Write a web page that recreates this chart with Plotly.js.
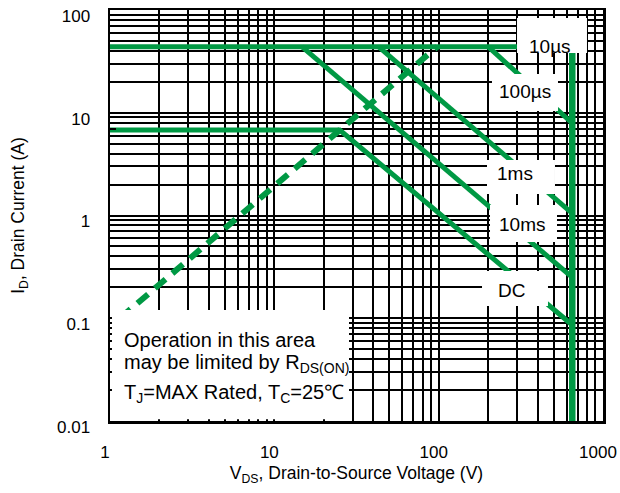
<!DOCTYPE html>
<html>
<head>
<meta charset="utf-8">
<script src="https://cdn.plot.ly/plotly-3.0.1.min.js"></script>
<style>html,body{margin:0;padding:0;background:#fff;}#chart{width:620px;height:493px;}</style>
</head>
<body>
<div id="chart"></div>
<script>
// ---- data (V in volts, I in amperes) ----
const v10us = [1, 650];
const i10us = [44, 44];
const v100us = [200, 650];
const i100us = [44, 7.9];
const v1ms = [43, 650];
const i1ms = [44, 1.05];
const v10ms = [14.7, 650];
const i10ms = [44, 0.25];
const vDC = [1, 25, 650];
const iDC = [6.8, 6.8, 0.086];
const vBreakdown = [650, 650];
const iBreakdown = [44, 0.01];
const vRdsLimit = [1.15, 98];
const iRdsLimit = [0.1, 44];

const xTickVals = [1, 10, 100, 1000];
const xTickText = ['1', '10', '100', '1000'];
const yTickVals = [0.01, 0.1, 1, 10, 100];
const yTickText = ['0.01', '0.1', '1', '10', '100'];
const curveLabels = ['10µs', '100µs', '1ms', '10ms', 'DC'];

function minorVals(d0, d1) {
  const out = [];
  for (let d = d0; d < d1; d++) for (let k = 2; k <= 9; k++) out.push(k * Math.pow(10, d));
  return out;
}

const green = '#009944';
const font = 'Liberation Sans, Arial, sans-serif';

function solid(x, y, w) {
  return {x: x, y: y, type: 'scatter', mode: 'lines', line: {color: green, width: w || 5}, hoverinfo: 'skip'};
}

const traces = [
  solid(v10us, i10us),
  solid(v100us, i100us),
  solid(v1ms, i1ms),
  solid(v10ms, i10ms),
  solid(vDC, iDC),
  solid(vBreakdown, iBreakdown, 6.5),
  {x: vRdsLimit, y: iRdsLimit, type: 'scatter', mode: 'lines',
   line: {color: green, width: 6, dash: '14px,9px'}, hoverinfo: 'skip'}
];

const gridStyle = {showgrid: true, gridcolor: '#000', gridwidth: 2};

function box(x0, x1, y0, y1) {
  return {type: 'rect', xref: 'paper', yref: 'paper', x0: x0, x1: x1, y0: y0, y1: y1,
          fillcolor: '#fff', line: {width: 0}, layer: 'above'};
}
function label(text, x, y, size, anchor) {
  return {text: text, xref: 'paper', yref: 'paper', x: x, y: y, showarrow: false,
          xanchor: anchor || 'center', yanchor: 'middle', font: {family: font, size: size || 19, color: '#000'}};
}

const layout = {
  width: 620, height: 493,
  margin: {l: 110, r: 17, t: 10, b: 72},
  paper_bgcolor: '#fff', plot_bgcolor: '#fff',
  showlegend: false, hovermode: false,
  font: {family: font, color: '#000'},
  xaxis: Object.assign({
    type: 'log', range: [0, 3], tickmode: 'array', tickvals: xTickVals, ticktext: xTickText,
    ticks: 'inside', ticklen: 6, tickwidth: 2, tickcolor: '#000',
    showline: true, linecolor: '#000', linewidth: 2.5, mirror: true, zeroline: false,
    tickfont: {family: font, size: 17, color: '#000'},
    ticklabelstandoff: 14, ticklabelshift: -5,
    minor: {tickmode: 'array', tickvals: minorVals(0, 3), showgrid: true, gridcolor: '#000', gridwidth: 2,
            ticks: 'inside', ticklen: 6, tickwidth: 2, tickcolor: '#000'},
    title: {text: 'V<sub>DS</sub>, Drain-to-Source Voltage (V)', font: {family: font, size: 17.5, color: '#000'}, standoff: 6},
    automargin: false
  }, gridStyle),
  yaxis: Object.assign({
    type: 'log', range: [-2, 2], tickmode: 'array', tickvals: yTickVals, ticktext: yTickText,
    ticks: 'inside', ticklen: 6, tickwidth: 2, tickcolor: '#000',
    showline: true, linecolor: '#000', linewidth: 2.5, mirror: true, zeroline: false,
    tickfont: {family: font, size: 17, color: '#000'},
    ticklabelstandoff: 14, ticklabelshift: 6,
    minor: {tickmode: 'array', tickvals: minorVals(-2, 2), showgrid: true, gridcolor: '#000', gridwidth: 2,
            ticks: 'inside', ticklen: 6, tickwidth: 2, tickcolor: '#000'},
    title: {text: 'I<sub>D</sub>, Drain Current (A)', font: {family: font, size: 17.5, color: '#000'}, standoff: 28},
    automargin: false
  }, gridStyle),
  shapes: [
    box(0.004, 0.4848, 0.004, 0.27),
    box(0.8256, 0.9675, 0.8954, 0.9805),
    box(0.7748, 0.9087, 0.7543, 0.8443),
    box(0.7647, 0.9026, 0.5523, 0.6350),
    box(0.7708, 0.9067, 0.4355, 0.5255),
    box(0.7546, 0.8884, 0.2798, 0.3650)
  ],
  annotations: [
    label(curveLabels[0], 0.892, 0.9124),
    label(curveLabels[1], 0.8418, 0.8029),
    label(curveLabels[2], 0.8215, 0.601),
    label(curveLabels[3], 0.8357, 0.4793),
    label(curveLabels[4], 0.8154, 0.3187),
    label('Operation in this area', 0.0243, 0.197, 20, 'left'),
    label('may be limited by R<sub>DS(ON)</sub>', 0.0243, 0.1387, 20, 'left'),
    label('T<sub>J</sub>=MAX Rated, T<sub>C</sub>=25℃', 0.0243, 0.0681, 20, 'left')
  ]
};

Plotly.newPlot('chart', traces, layout, {staticPlot: true, displayModeBar: false});
</script>
</body>
</html>
